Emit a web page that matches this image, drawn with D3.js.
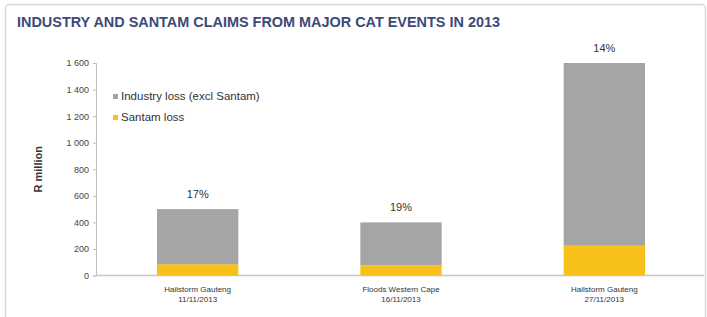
<!DOCTYPE html>
<html><head><meta charset="utf-8">
<script src="https://cdn.jsdelivr.net/npm/d3@7"></script>
<style>body{margin:0;background:#fff}svg{display:block}</style>
</head><body>
<script>
const categories = [["Hailstorm Gauteng","11/11/2013"],["Floods Western Cape","16/11/2013"],["Hailstorm Gauteng","27/11/2013"]];
const santamLoss = [85, 76, 224];
const industryLoss = [415, 324, 1376];
const shareLabels = ["17%", "19%", "14%"];
const yTicks = [0,200,400,600,800,1000,1200,1400,1600];
const seriesNames = ["Industry loss (excl Santam)", "Santam loss"];
const colors = {industry:"#a5a5a5", santam:"#f7c11a"};

const W=707,H=317;
const svg=d3.select("body").append("svg").attr("width",W).attr("height",H);
svg.append("rect").attr("x",5.5).attr("y",4.5).attr("width",W-7).attr("height",H+10).attr("rx",4)
  .attr("fill","#fff").attr("stroke","#d9d9d9").attr("stroke-width",1.5);

svg.append("text").attr("x",17).attr("y",27).text("INDUSTRY AND SANTAM CLAIMS FROM MAJOR CAT EVENTS IN 2013")
  .attr("font-family","'Liberation Sans Narrow','Arial Narrow',sans-serif").attr("font-weight","bold")
  .attr("font-size",15).attr("fill","#3d4a78").attr("textLength",483).attr("lengthAdjust","spacingAndGlyphs");

const x=d3.scaleBand().domain(d3.range(categories.length)).range([96,706]).paddingInner(0.6).paddingOuter(0.3);
const y=d3.scaleLinear().domain([0,1600]).range([275.5,63]);

const fmt=v=>d3.format(",")(v).replace(/,/g," ");
const ax=svg.append("g").attr("transform","translate(96,0)")
  .call(d3.axisLeft(y).tickValues(yTicks).tickFormat(fmt).tickSize(3).tickPadding(4));
ax.select(".domain").attr("stroke","#bfbfbf");
ax.selectAll(".tick line").attr("stroke","#bfbfbf");
ax.selectAll("text").attr("font-family","'Liberation Sans Narrow',Arial,sans-serif").attr("font-size",9).attr("fill","#444");

svg.append("line").attr("x1",96).attr("x2",704).attr("y1",y(0)).attr("y2",y(0)).attr("stroke","#c8c8c8").attr("stroke-width",1.5);

svg.append("text").attr("transform",`translate(42,${y(800)}) rotate(-90)`).attr("text-anchor","middle")
  .attr("font-family","Arial,'Liberation Sans',sans-serif").attr("font-weight","bold").attr("font-size",11).attr("fill","#333").text("R million");

const g=svg.append("g");
categories.forEach((c,i)=>{
  g.append("rect").attr("x",x(i)).attr("width",x.bandwidth()).attr("y",y(santamLoss[i])).attr("height",y(0)-y(santamLoss[i])).attr("fill",colors.santam);
  const tot=santamLoss[i]+industryLoss[i];
  g.append("rect").attr("x",x(i)).attr("width",x.bandwidth()).attr("y",y(tot)).attr("height",y(santamLoss[i])-y(tot)).attr("fill",colors.industry);
  g.append("text").attr("x",x(i)+x.bandwidth()/2).attr("y",y(tot)-11).attr("text-anchor","middle")
    .attr("font-family","'Liberation Sans Narrow',Arial,sans-serif").attr("font-size",11).attr("fill","#333").text(shareLabels[i]);
  c.forEach((t,j)=>g.append("text").attr("x",x(i)+x.bandwidth()/2).attr("y",292+j*10).attr("text-anchor","middle")
    .attr("font-family","Arial,'Liberation Sans',sans-serif").attr("font-size",8).attr("fill","#333").text(t));
});

const leg=svg.append("g");
[[seriesNames[0],colors.industry],[seriesNames[1],colors.santam]].forEach((d,i)=>{
  leg.append("rect").attr("x",113).attr("y",94+i*21).attr("width",5).attr("height",5).attr("fill",d[1]);
  leg.append("text").attr("x",121).attr("y",100+i*21).attr("font-family","'Liberation Sans Narrow',Arial,sans-serif")
    .attr("font-size",11.5).attr("fill","#333").text(d[0]);
});
</script>
</body></html>
